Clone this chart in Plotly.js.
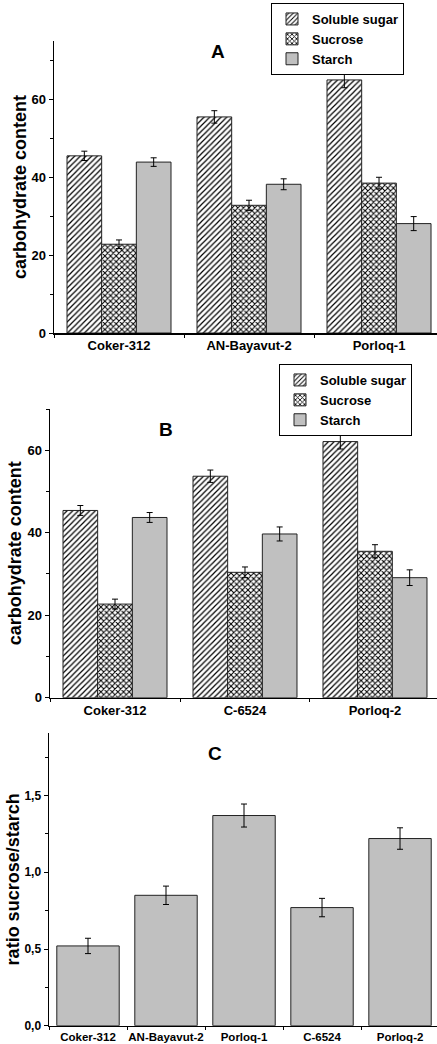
<!DOCTYPE html>
<html>
<head>
<meta charset="utf-8">
<script src="https://cdn.plot.ly/plotly-3.0.1.min.js"></script>
<style>
html,body{margin:0;padding:0;background:#fff;}
#chart{width:437px;height:1044px;}
</style>
</head>
<body>
<div id="chart"></div>
<script>
// ---- Data ----
const groupsA = ['Coker-312', 'AN-Bayavut-2', 'Porloq-1'];
const solubleA = [45.5, 55.5, 65.0];
const solubleErrA = [1.2, 1.6, 2.0];
const sucroseA = [22.8, 32.8, 38.5];
const sucroseErrA = [1.1, 1.3, 1.5];
const starchA = [43.9, 38.2, 28.1];
const starchErrA = [1.1, 1.4, 1.8];

const groupsB = ['Coker-312', 'C-6524', 'Porloq-2'];
const solubleB = [45.4, 53.7, 62.1];
const solubleErrB = [1.2, 1.5, 1.8];
const sucroseB = [22.7, 30.4, 35.5];
const sucroseErrB = [1.2, 1.3, 1.6];
const starchB = [43.7, 39.7, 29.1];
const starchErrB = [1.2, 1.7, 1.9];

const groupsC = ['Coker-312', 'AN-Bayavut-2', 'Porloq-1', 'C-6524', 'Porloq-2'];
const ratioC = [0.52, 0.85, 1.37, 0.77, 1.22];
const ratioErrC = [0.05, 0.06, 0.075, 0.06, 0.07];

const seriesNames = ['Soluble sugar', 'Sucrose', 'Starch'];
const panelLabels = ['A', 'B', 'C'];

// ---- Styles ----
const FONT = 'Liberation Sans, Arial, sans-serif';
const W = 437, H = 1044;
const lineCol = '#222';
const grey = '#c0c0c0';

function errBar(arr) {
  return {type: 'data', array: arr, visible: true, color: '#000', thickness: 1, width: 3};
}
function styleFor(i) {
  if (i === 0) return {color: '#fff', line: {color: lineCol, width: 1},
    pattern: {shape: '/', fgcolor: '#000', bgcolor: '#fff', size: 4, solidity: 0.3}};
  if (i === 1) return {color: '#fff', line: {color: lineCol, width: 1},
    pattern: {shape: 'x', fgcolor: '#000', bgcolor: '#fff', size: 4, solidity: 0.45}};
  return {color: grey, line: {color: lineCol, width: 1}};
}

const traces = [];
const setA = [[solubleA, solubleErrA], [sucroseA, sucroseErrA], [starchA, starchErrA]];
const setB = [[solubleB, solubleErrB], [sucroseB, sucroseErrB], [starchB, starchErrB]];
setA.forEach((s, i) => traces.push({
  type: 'bar', name: seriesNames[i], x: groupsA, y: s[0], error_y: errBar(s[1]),
  marker: styleFor(i), xaxis: 'x', yaxis: 'y', legend: 'legend', offsetgroup: String(i)
}));
setB.forEach((s, i) => traces.push({
  type: 'bar', name: seriesNames[i], x: groupsB, y: s[0], error_y: errBar(s[1]),
  marker: styleFor(i), xaxis: 'x2', yaxis: 'y2', legend: 'legend2', offsetgroup: String(i)
}));
traces.push({
  type: 'bar', name: 'ratio', x: groupsC, y: ratioC, error_y: errBar(ratioErrC),
  marker: {color: grey, line: {color: lineCol, width: 1}}, xaxis: 'x3', yaxis: 'y3',
  showlegend: false
});

function xAx(left, endVal, anchor, fsize) {
  return {
    domain: [left / W, 1], anchor: anchor, type: 'category',
    range: [-0.5, endVal], showline: true, linecolor: '#000', linewidth: 1.5,
    ticks: 'outside', tickson: 'boundaries', ticklen: 3, tickcolor: '#000',
    tickangle: 0,
    showgrid: false, zeroline: false, fixedrange: true,
    tickfont: {family: FONT, size: fsize, color: '#000', weight: 'bold'}
  };
}
function yAx(bottomPx, topPx, range, dtick, minorDtick, title, anchor, fmt, fsize, standoff) {
  return {
    domain: [1 - bottomPx / H, 1 - topPx / H], anchor: anchor,
    range: range, dtick: dtick, tick0: 0, showline: true, linecolor: '#000', linewidth: 1.5,
    ticks: 'outside', ticklen: 4, tickcolor: '#000', tickformat: fmt,
    minor: {dtick: minorDtick, tick0: 0, ticks: 'outside', ticklen: 3, tickcolor: '#000'},
    showgrid: false, zeroline: false, fixedrange: true,
    tickfont: {family: FONT, size: fsize, color: '#000', weight: 'bold'},
    title: {text: title, standoff: standoff, font: {family: FONT, size: 18, color: '#000', weight: 'bold'}}
  };
}

const legendBase = {
  xanchor: 'left', yanchor: 'top', bgcolor: '#fff', bordercolor: '#000', borderwidth: 1,
  font: {family: FONT, size: 13, color: '#000', weight: 'bold'}, tracegroupgap: 0,
  traceorder: 'normal'
};

const layout = {
  width: W, height: H, margin: {l: 0, r: 0, t: 0, b: 0},
  paper_bgcolor: '#fff', plot_bgcolor: 'rgba(0,0,0,0)',
  separators: ',.',
  barmode: 'group', bargap: 0.2, bargroupgap: 0,
  showlegend: true,
  font: {family: FONT, color: '#000'},
  xaxis: xAx(54, 2.446, 'y', 13),
  yaxis: yAx(333, 41, [0, 75], 20, 10, 'carbohydrate content', 'x', 'd', 13, 0),
  xaxis2: xAx(50, 2.477, 'y2', 13),
  yaxis2: yAx(697.7, 409, [0, 70], 20, 10, 'carbohydrate content', 'x2', 'd', 13, 1),
  xaxis3: xAx(49, 4.474, 'y3', 11.5),
  yaxis3: yAx(1025.7, 733, [0, 1.908], 0.5, 0.25, 'ratio sucrose/starch', 'x3', '.1f', 12, 0),
  legend: Object.assign({}, legendBase, {x: 271 / W, y: 1 - 3 / H}),
  legend2: Object.assign({}, legendBase, {x: 279 / W, y: 1 - 364 / H}),
  annotations: [
    {text: panelLabels[0], x: 218 / W, y: 1 - 52 / H},
    {text: panelLabels[1], x: 166 / W, y: 1 - 430 / H},
    {text: panelLabels[2], x: 215 / W, y: 1 - 753 / H}
  ].map(a => Object.assign(a, {xref: 'paper', yref: 'paper', showarrow: false,
    xanchor: 'center', yanchor: 'middle',
    font: {family: FONT, size: 19, color: '#000', weight: 'bold'}}))
};

Plotly.newPlot('chart', traces, layout, {staticPlot: true, displayModeBar: false});
</script>
</body>
</html>
